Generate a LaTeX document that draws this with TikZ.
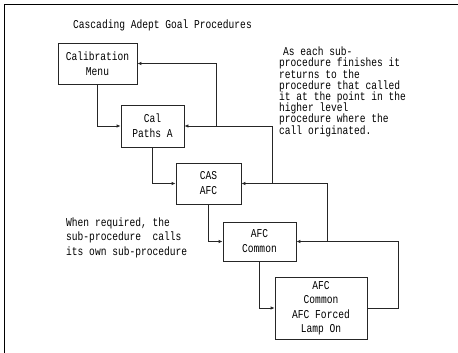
\documentclass[tikz,border=0pt]{standalone}
\usepackage{fontspec}
\usetikzlibrary{arrows.meta}
\newfontfamily\plotfont[FakeStretch=0.8]{Liberation Mono}
\begin{document}
\begin{tikzpicture}[x=1pt,y=-1pt,
  every node/.style={font=\plotfont\fontsize{12}{15}\selectfont},
  procbox/.style={draw=black!85, line width=0.8pt, fill=white, inner sep=0pt, align=center},
  link/.style={draw=black!85, line width=0.8pt},
  arr/.style={link, -{Latex[length=4pt,width=3.5pt]}},
  note/.style={inner sep=0pt, align=left, anchor=base west}]
  \useasboundingbox (0,0) rectangle (458,353);
  \fill[white] (0,0) rectangle (458,353);
  % open frame: top and left edges
  \draw[black, line width=1pt] (4.5,353) -- (4.5,5) -- (458,5);

  \node[note] (title) at (73,29) {Cascading Adept Goal Procedures};

  % procedure boxes
  \node[procbox, minimum width=79pt, minimum height=41pt] (calmenu) at (97.5,63.5) {Calibration\\Menu};
  \node[procbox, minimum width=63pt, minimum height=42pt] (calpaths) at (152.5,126) {Cal\\Paths A};
  \node[procbox, minimum width=65pt, minimum height=41pt] (casafc) at (208.5,183.5) {CAS\\AFC};
  \node[procbox, minimum width=73pt, minimum height=39pt] (afccommon) at (259.5,241.5) {AFC\\Common};
  \node[procbox, minimum width=92pt, minimum height=62pt, font=\plotfont\fontsize{12}{14.5}\selectfont] (afcforced) at (321,308) {AFC\\Common\\AFC Forced\\Lamp On};

  % calls down the chain
  \draw[arr] (calmenu.south) |- (calpaths.west);
  \draw[arr] (calpaths.south) |- (casafc.west);
  \draw[arr] (casafc.south) |- (afccommon.west);
  \draw[arr] (afccommon.south) |- (afcforced.west);

  % returns up the chain
  \coordinate (r4) at (398,308);
  \coordinate (r3) at (327,241.5);
  \coordinate (r2) at (272,183.5);
  \coordinate (r1) at (216,126);
  \draw[arr] (afcforced.east) -- (r4) |- (afccommon.east);
  \draw[arr] (r3) |- (casafc.east);
  \draw[arr] (r2) |- (calpaths.east);
  \draw[arr] (r1) |- (calmenu.east);

  % explanatory notes (anchored on the baseline of their last line)
  \node[note, font=\plotfont\fontsize{12}{11.2}\selectfont] (returnnote) at (279,134)
    {\hspace{4pt}As each sub-\\procedure finishes it\\returns to the\\procedure that called\\it at the point in the\\higher level\\procedure where the\\call originated.};
  \node[note, font=\plotfont\fontsize{12}{14.5}\selectfont] (callnote) at (66,255)
    {When required, the\\sub-procedure~~calls\\its own sub-procedure};
\end{tikzpicture}
\end{document}
